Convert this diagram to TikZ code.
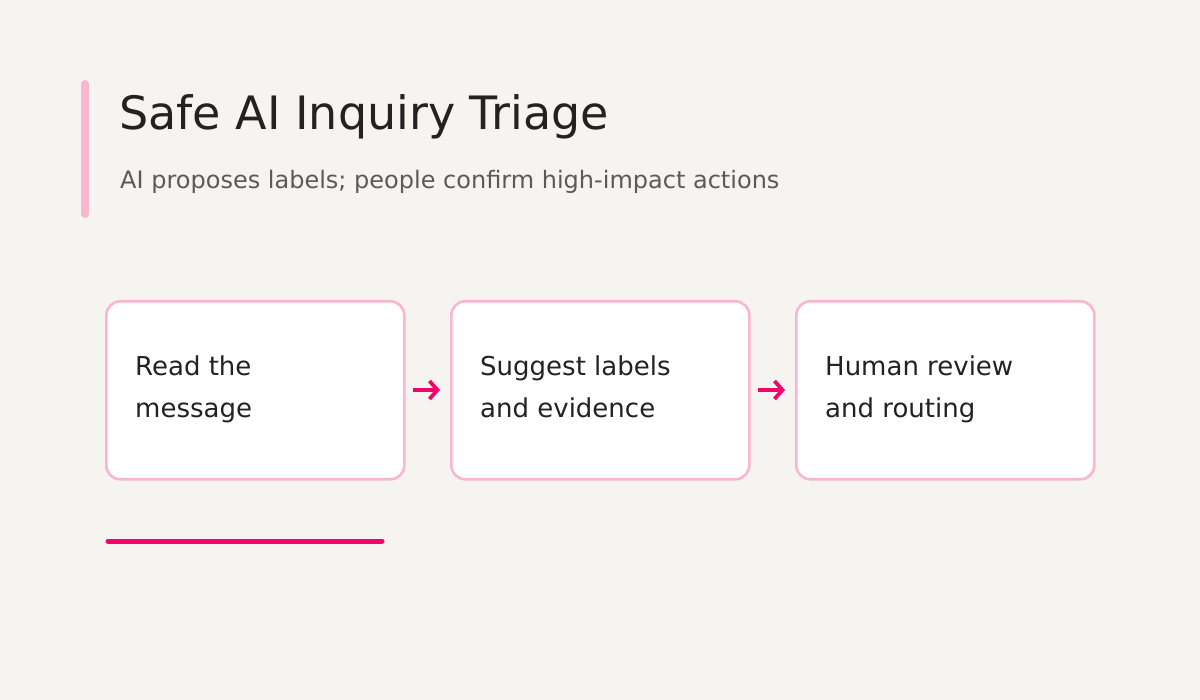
\documentclass[tikz,border=0pt]{standalone}
\usepackage{fontspec}
\setmainfont{DejaVu Sans}
\usetikzlibrary{arrows.meta}
\definecolor{bgcol}{RGB}{245,244,240}
\definecolor{pinkline}{RGB}{250,182,207}
\definecolor{magenta}{RGB}{240,5,106}
\definecolor{textcol}{RGB}{34,34,34}
\definecolor{subcol}{RGB}{90,90,90}
\tikzset{
  stepbox/.style={draw=pinkline, line width=2.6pt, fill=white, rounded corners=14pt, minimum width=298pt, minimum height=178pt, anchor=north west},
  steptext/.style={anchor=north west, inner sep=0pt, align=left, text=textcol, font=\fontsize{26}{42}\selectfont},
  flow/.style={draw=magenta, line width=3.8pt, -{Straight Barb[length=8pt,width=18pt,line width=3.8pt]}}
}
\begin{document}
\begin{tikzpicture}[x=1pt,y=1pt,yscale=-1]
%Background
\fill[bgcol] (0,0) rectangle (1200,700);
\useasboundingbox (0,0) rectangle (1200,700);
%Accent bar
\draw[pinkline, line width=8pt, line cap=round] (85,84) -- (85,214);
% Title
\node (title) [anchor=west, inner sep=0pt, text=textcol, font=\fontsize{46}{50}\selectfont] at (119,117) {Safe AI Inquiry Triage};
\node (subtitle) [anchor=west, inner sep=0pt, text=subcol, font=\fontsize{24}{28}\selectfont] at (120,182) {AI proposes labels; people confirm high-impact actions};
%Steps
\node (read) [stepbox] at (105,300) {};
\node (suggest) [stepbox] at (450,300) {};
\node (human) [stepbox] at (795,300) {};
% Text Node
\node [steptext] at (135,356) {Read the\\message};
\node [steptext] at (480,356) {Suggest labels\\and evidence};
\node [steptext] at (825,356) {Human review\\and routing};
%Arrows
\coordinate (a1) at (413,390);
\coordinate (b1) at (440,390);
\coordinate (a2) at (758,390);
\coordinate (b2) at (785,390);
\draw[flow] (a1) -- (b1);
\draw[flow] (a2) -- (b2);
%Underline
\draw[magenta, line width=5pt, line cap=round] (108,541) -- (382,541);
\end{tikzpicture}
\end{document}
